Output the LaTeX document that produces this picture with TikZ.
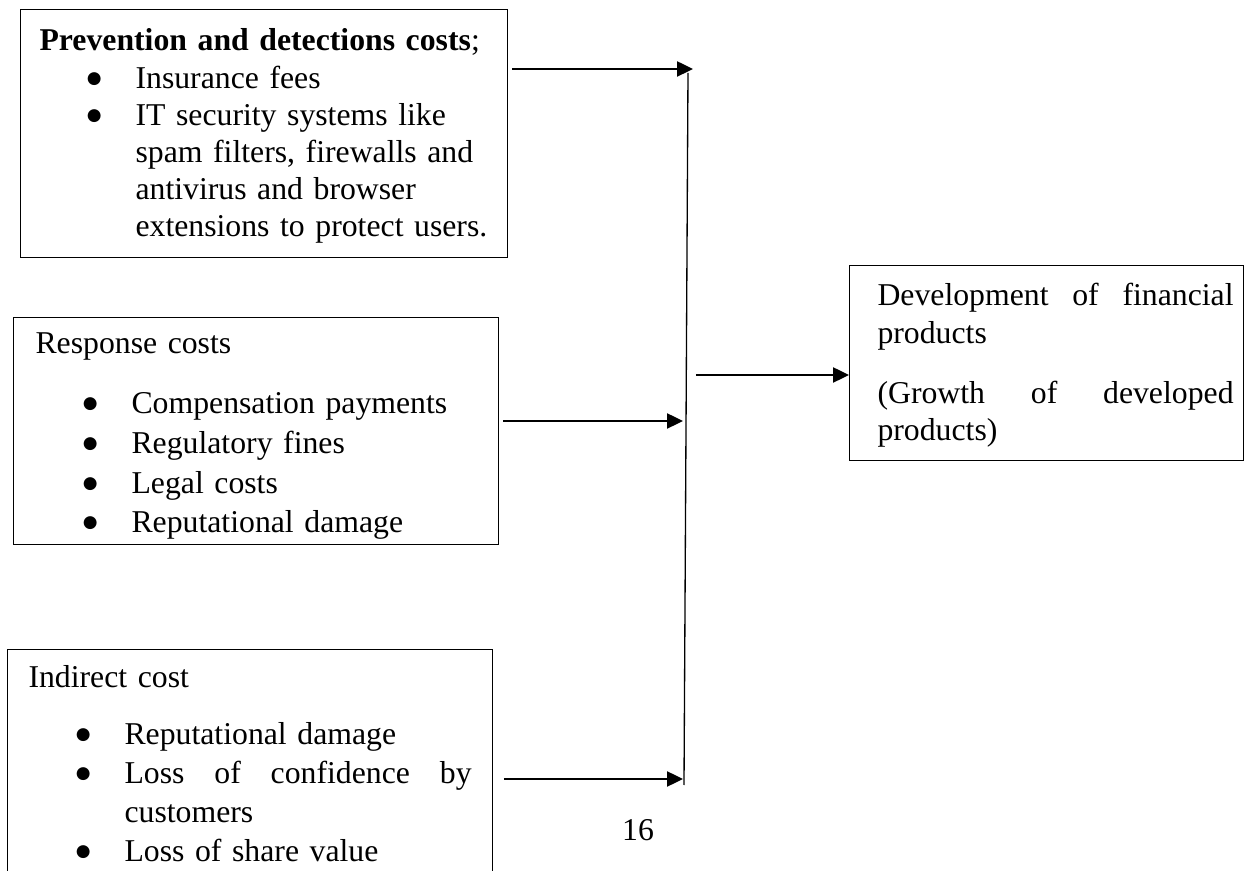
\documentclass[tikz,border=0pt]{standalone}
\usepackage{fontspec}
\setmainfont{Liberation Serif}
\newfontfamily\dotfont{DejaVu Sans}
\usepackage{enumitem}
\usetikzlibrary{arrows.meta}

\newcommand{\bdot}{\makebox[0pt]{\raisebox{1.9pt}{\dotfont\fontsize{6.4}{6.4}\selectfont ●}}}
\setlist[itemize]{nosep, leftmargin=36.3pt, labelsep=15.6pt, label=\bdot}

\tikzset{
  box/.style={draw, line width=0.5pt, anchor=north west, inner sep=0pt},
  txt/.style={anchor=base west, inner sep=0pt, align=left, font=\fontsize{12}{#1}\selectfont},
  link/.style={line width=1pt, -{Triangle[length=6pt,width=5.6pt]}, shorten <=1.5pt},
}

\begin{document}
\begin{tikzpicture}[x=0.378pt,y=0.378pt,yscale=-1,xscale=1]
\useasboundingbox (0,0) rectangle (1251,871);
% boxes
\draw (20,9) node [box, minimum width=184.1pt, minimum height=93.7pt] (prev) {};
\draw (13,317) node [box, minimum width=183.3pt, minimum height=85.8pt] (resp) {};
\draw (7,649) node [box, minimum width=183.3pt, minimum height=98.3pt] (indir) {};
\draw (849,265) node [box, minimum width=148.9pt, minimum height=73.7pt] (dev) {};
% texts
\draw (39,51) node [txt=14.06pt, text width=173.9pt] (prevtxt) {\textbf{Prevention and detections costs};
\begin{itemize}
\item Insurance fees
\item IT security systems like\\spam filters, firewalls and\\antivirus and browser\\extensions to protect users.
\end{itemize}};
\draw (35,354) node [txt=14.97pt, text width=166.3pt] (resptxt) {Response costs
\begin{itemize}[topsep=7.7pt]
\item Compensation payments
\item Regulatory fines
\item Legal costs
\item Reputational damage
\end{itemize}};
\draw (28,688) node [txt=14.74pt, text width=167.5pt] (indirtxt) {Indirect cost
\begin{itemize}[topsep=6.8pt]
\item Reputational damage
\item Loss\hfill of\hfill confidence\hfill by\\customers
\item Loss of share value
\end{itemize}};
\draw (877,306) node [txt=14pt, text width=134.6pt] (devtxt) {Development\hfill of\hfill financial\\products\\[8.7pt](Growth\hfill of\hfill developed\\products)};
\draw (638,840) node [anchor=base, inner sep=0pt, font=\fontsize{12}{14}\selectfont] (pnum) {16};
% connectors
\coordinate (j1) at (693,69);
\coordinate (j2) at (683,421);
\coordinate (j3) at (692,375);
\coordinate (j4) at (683,779);
\coordinate (vtop) at (688,73);
\coordinate (vbot) at (684,785);
\draw [line width=0.5pt] (vtop) -- (vbot);
\draw [link] (prev.east |- j1) -- (j1);
\draw [link] (resp.east |- j2) -- (j2);
\draw [link, shorten <=4pt] (indir.east |- j4) -- (j4);
\draw [link] (j3) -- (j3 -| dev.west);
\end{tikzpicture}
\end{document}
